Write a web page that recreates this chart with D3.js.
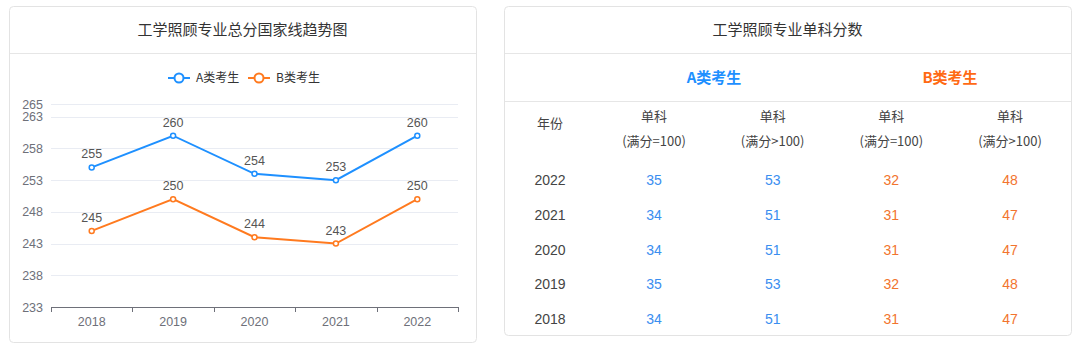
<!DOCTYPE html>
<html lang="zh">
<head>
    <meta charset="utf-8">
    <title>工学照顾专业国家线</title>
    <script src="https://d3js.org/d3.v7.min.js"></script>
    <style>
        body { margin: 0; background: #fff; }
        text { font-family: "Liberation Sans", "Noto Sans CJK SC", sans-serif; }
        .cjk { font-family: "Noto Sans CJK SC", sans-serif; }
    </style>
</head>
<body>
<svg id="chart" width="1080" height="350"></svg>
<script>
// chart data
var years = ["2018", "2019", "2020", "2021", "2022"];
var seriesA = [255, 260, 254, 253, 260];
var seriesB = [245, 250, 244, 243, 250];
var yTicks = [233, 238, 243, 248, 253, 258, 263, 265];
var seriesNames = ["A类考生", "B类考生"];

// table data
var tableYears = ["2022", "2021", "2020", "2019", "2018"];
var aFull100 = [35, 34, 34, 35, 34];
var aOver100 = [53, 51, 51, 53, 51];
var bFull100 = [32, 31, 31, 32, 31];
var bOver100 = [48, 47, 47, 48, 47];
var colHeads = ["(满分=100)", "(满分>100)", "(满分=100)", "(满分>100)"];

var blue = "#1e90ff", orange = "#ff7a1f";
var svg = d3.select("#chart");

function card(x, y, w, h, title) {
    svg.append("rect").attr("x", x + 0.5).attr("y", y + 0.5)
        .attr("width", w).attr("height", h).attr("rx", 4)
        .attr("fill", "#fff").attr("stroke", "#e3e3e3");
    svg.append("line").attr("x1", x + 1).attr("x2", x + w)
        .attr("y1", 53.5).attr("y2", 53.5).attr("stroke", "#e6e6e6");
    svg.append("text").attr("class", "cjk")
        .attr("x", x + w / 2).attr("y", 35).attr("text-anchor", "middle")
        .attr("font-size", 15).attr("fill", "#333").text(title);
}

// ---------- left: line chart ----------
card(9, 6, 467, 336, "工学照顾专业总分国家线趋势图");

var x = d3.scaleBand().domain(years).range([51, 458]);
var y = d3.scaleLinear().domain([233, 265]).range([307, 104]);

var g = svg.append("g");
g.selectAll(".grid").data(yTicks).enter().append("line")
    .attr("x1", 51).attr("x2", 458)
    .attr("y1", function(d) { return Math.round(y(d)) + 0.5; })
    .attr("y2", function(d) { return Math.round(y(d)) + 0.5; })
    .attr("stroke", "#e9ecf3");

var yAxis = g.append("g").attr("transform", "translate(51,0)")
    .call(d3.axisLeft(y).tickValues(yTicks).tickSize(0).tickPadding(8));
yAxis.select(".domain").remove();
yAxis.selectAll("text").attr("font-size", 12.5).attr("fill", "#6e7079");

var xAxis = g.append("g").attr("transform", "translate(0,307)")
    .call(d3.axisBottom(x).tickSizeInner(0).tickSizeOuter(0).tickPadding(10));
xAxis.select(".domain").attr("stroke", "#6e7079");
xAxis.selectAll("text").attr("font-size", 12.5).attr("fill", "#6e7079");
// boundary tick marks between categories
xAxis.selectAll(".btick").data(d3.range(years.length + 1)).enter().append("line")
    .attr("x1", function(i) { return Math.round(51 + i * x.step()) + 0.5; })
    .attr("x2", function(i) { return Math.round(51 + i * x.step()) + 0.5; })
    .attr("y1", 0).attr("y2", 5).attr("stroke", "#6e7079");

function cx(d, i) { return x(years[i]) + x.bandwidth() / 2; }

[[seriesA, blue], [seriesB, orange]].forEach(function(s) {
    var vals = s[0], col = s[1];
    g.append("path").datum(vals)
        .attr("fill", "none").attr("stroke", col).attr("stroke-width", 2)
        .attr("d", d3.line().x(cx).y(function(d) { return y(d); }));
    g.selectAll(null).data(vals).enter().append("circle")
        .attr("cx", cx).attr("cy", function(d) { return y(d); })
        .attr("r", 2.5).attr("fill", "#fff").attr("stroke", col).attr("stroke-width", 1.5);
    g.selectAll(null).data(vals).enter().append("text")
        .attr("x", cx).attr("y", function(d) { return y(d) - 9; })
        .attr("text-anchor", "middle").attr("font-size", 12.5).attr("fill", "#555")
        .text(function(d) { return d; });
});

// legend
var legend = svg.append("g");
[[blue, 168], [orange, 248]].forEach(function(l, i) {
    var lx = l[1];
    legend.append("line").attr("x1", lx).attr("x2", lx + 22)
        .attr("y1", 78).attr("y2", 78).attr("stroke", l[0]).attr("stroke-width", 2);
    legend.append("circle").attr("cx", lx + 11).attr("cy", 78).attr("r", 4.5)
        .attr("fill", "#fff").attr("stroke", l[0]).attr("stroke-width", 2);
    legend.append("text").attr("class", "cjk").attr("x", lx + 28).attr("y", 82)
        .attr("font-size", 12).attr("fill", "#333").text(seriesNames[i]);
});

// ---------- right: table ----------
card(504, 6, 567, 329, "工学照顾专业单科分数");
svg.append("line").attr("x1", 505).attr("x2", 1071)
    .attr("y1", 101.5).attr("y2", 101.5).attr("stroke", "#e6e6e6");

var yearX = 550;
var cols = d3.scalePoint().domain(d3.range(4)).range([654, 1010]);
var rows = d3.scalePoint().domain(tableYears).range([180, 319]);

svg.append("text").attr("class", "cjk").attr("x", 714).attr("y", 83)
    .attr("text-anchor", "middle").attr("font-size", 15).attr("font-weight", "bold")
    .attr("fill", blue).text(seriesNames[0]);
svg.append("text").attr("class", "cjk").attr("x", 950).attr("y", 83)
    .attr("text-anchor", "middle").attr("font-size", 15).attr("font-weight", "bold")
    .attr("fill", "#ff6a14").text(seriesNames[1]);

svg.append("text").attr("class", "cjk").attr("x", yearX).attr("y", 128)
    .attr("text-anchor", "middle").attr("font-size", 13).attr("fill", "#444").text("年份");
colHeads.forEach(function(h, i) {
    svg.append("text").attr("class", "cjk").attr("x", cols(i)).attr("y", 121)
        .attr("text-anchor", "middle").attr("font-size", 13).attr("fill", "#444").text("单科");
    svg.append("text").attr("class", "cjk").attr("x", cols(i)).attr("y", 146)
        .attr("text-anchor", "middle").attr("font-size", 13).attr("fill", "#444").text(h);
});

svg.selectAll(null).data(tableYears).enter().append("text")
    .attr("x", yearX)
    .attr("y", function(d) { return rows(d) + 5; })
    .attr("text-anchor", "middle").attr("font-size", 14).attr("fill", "#444")
    .text(function(d) { return d; });

var tableCols = [[aFull100, "#3a8ef0"], [aOver100, "#3a8ef0"],
                 [bFull100, "#f2742e"], [bOver100, "#f2742e"]];
tableCols.forEach(function(c, ci) {
    svg.selectAll(null).data(c[0]).enter().append("text")
        .attr("x", cols(ci))
        .attr("y", function(d, i) { return rows(tableYears[i]) + 5; })
        .attr("text-anchor", "middle").attr("font-size", 14).attr("fill", c[1])
        .text(function(d) { return d; });
});
</script>
</body>
</html>
